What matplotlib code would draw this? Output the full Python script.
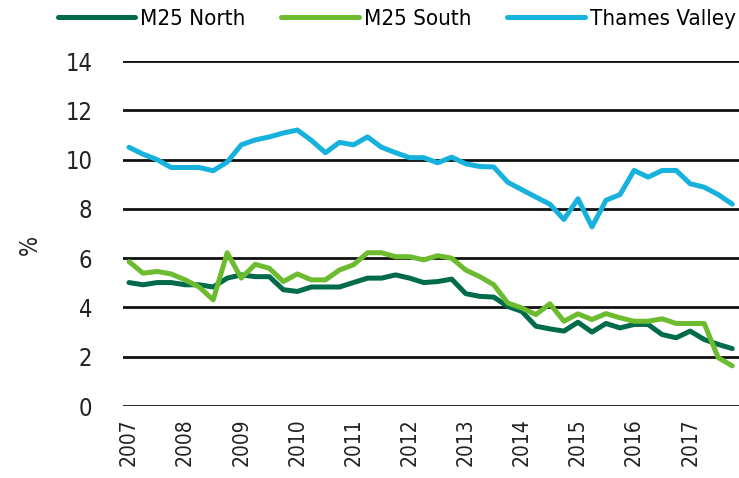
import matplotlib
matplotlib.use("Agg")
from matplotlib import pyplot as plt
from matplotlib import font_manager

years = ["2007", "2008", "2009", "2010", "2011", "2012", "2013", "2014", "2015", "2016", "2017"]

# quarterly rates, 2007 Q1 to 2017 Q4
m25_north = [5.01, 4.92, 5.01, 5.01, 4.92, 4.92, 4.83, 5.19, 5.32, 5.25, 5.25,
             4.72, 4.65, 4.83, 4.83, 4.83, 5.01, 5.19, 5.19, 5.32, 5.19, 5.01,
             5.05, 5.15, 4.56, 4.45, 4.42, 4.04, 3.84, 3.24, 3.13, 3.04, 3.40,
             3.00, 3.35, 3.17, 3.31, 3.31, 2.90, 2.77, 3.04, 2.70, 2.50, 2.33]
m25_south = [5.86, 5.39, 5.46, 5.36, 5.12, 4.83, 4.31, 6.22, 5.19, 5.75, 5.59,
             5.05, 5.36, 5.12, 5.12, 5.52, 5.73, 6.22, 6.22, 6.06, 6.06, 5.93,
             6.10, 6.00, 5.52, 5.25, 4.92, 4.18, 3.98, 3.71, 4.15, 3.44, 3.74,
             3.51, 3.75, 3.58, 3.44, 3.44, 3.54, 3.35, 3.35, 3.35, 1.96, 1.63]
thames_valley = [10.50, 10.22, 10.00, 9.68, 9.68, 9.68, 9.55, 9.90, 10.60, 10.80, 10.92,
                 11.08, 11.20, 10.78, 10.28, 10.70, 10.60, 10.92, 10.50, 10.28, 10.08, 10.08,
                 9.87, 10.10, 9.83, 9.72, 9.70, 9.08, 8.78, 8.48, 8.19, 7.57, 8.41,
                 7.27, 8.35, 8.58, 9.56, 9.29, 9.56, 9.56, 9.02, 8.88, 8.58, 8.19]

# use a condensed face if one is installed, otherwise a plain sans at smaller size
cond = font_manager.FontProperties(family="DejaVu Sans", stretch="condensed")
path = font_manager.findfont(cond, fallback_to_default=False)
if "Condensed" in path:
    plt.rcParams["font.family"] = ["DejaVu Sans"]
    plt.rcParams["font.stretch"] = "condensed"
    tick_size, year_size, leg_size = 17, 15, 16
else:
    plt.rcParams["font.family"] = ["Liberation Sans", "DejaVu Sans"]
    tick_size, year_size, leg_size = 15, 13, 14

fig = plt.figure(figsize=(7.39, 4.78), dpi=100)
ax = fig.add_axes([0.1664, 0.1506, 0.8336, 0.7217])

x = list(range(len(m25_north)))
ax.plot(x, m25_north, color="#006B4A", lw=3.6, label="M25 North", solid_capstyle="round")
ax.plot(x, m25_south, color="#6DBB2F", lw=3.6, label="M25 South", solid_capstyle="round")
ax.plot(x, thames_valley, color="#16B1DC", lw=3.6, label="Thames Valley", solid_capstyle="round")

ax.set_ylim(0, 14)
ax.set_xlim(-0.43, 43.48)
ax.set_yticks(range(0, 15, 2))
ax.set_xticks(range(0, 44, 4))
ax.set_xticklabels(years, rotation=90)
ax.tick_params(length=0, labelsize=tick_size, colors="#222222")
ax.tick_params(axis="x", labelsize=year_size, pad=9)
ax.tick_params(axis="y", pad=22)
ax.yaxis.grid(True, color="#111111", lw=2.0)
ax.set_axisbelow(True)
for s in ax.spines.values():
    s.set_visible(False)
ax.set_ylabel("%", fontsize=tick_size, color="#222222")
ax.yaxis.set_label_coords(-0.132, 0.467)

fig.legend(loc="center", bbox_to_anchor=(0.537, 0.961), ncol=3, frameon=False,
           fontsize=leg_size, handlelength=3.5, handletextpad=0.23, columnspacing=1.6)

plt.savefig("out.png", dpi=100)
